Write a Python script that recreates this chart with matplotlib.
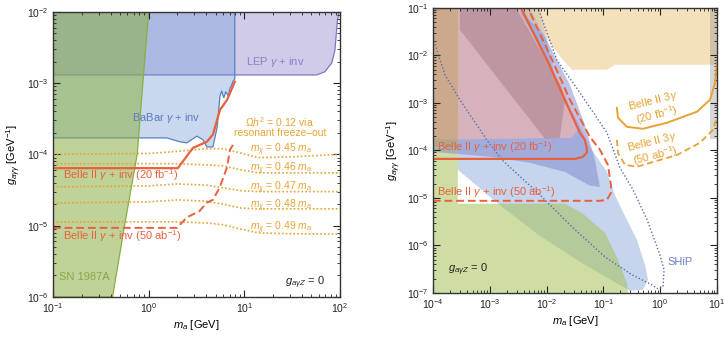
import numpy as np
import matplotlib
matplotlib.use("Agg")
import matplotlib.pyplot as plt
from matplotlib.ticker import LogLocator, NullFormatter

plt.rcParams["font.family"] = ["Liberation Sans", "DejaVu Sans"]
plt.rcParams["mathtext.fontset"] = "custom"
plt.rcParams["mathtext.rm"] = "Liberation Sans"
plt.rcParams["mathtext.it"] = "Liberation Sans:italic"
plt.rcParams["mathtext.bf"] = "Liberation Sans:bold"

# ==================================================
# left panel data (invisible ALP decays)
# ==================================================
lep_m = [0.1, 0.1, 57, 69.5, 82, 88.5, 94, 98]
lep_g = [1e-2, 1.3e-3, 1.3e-3, 1.44e-3, 1.92e-3, 2.9e-3, 7.7e-3, 1e-2]

babar_m = [0.1, 7.95, 7.95, 7.6, 7.4, 7.1, 6.8, 6.4, 6.1, 5.8, 5.56, 5.2, 4.7,
           4.06, 3.7, 3.2, 2.5, 2.12, 1.55, 0.1]
babar_g = [1e-2, 1e-2, 1.15e-3, 1.05e-3, 9.5e-4, 8.5e-4, 6.6e-4, 7.6e-4, 6.2e-4,
           7.8e-4, 6.5e-4, 2.4e-4, 1.27e-4, 1.27e-4, 1.6e-4, 1.8e-4, 1.45e-4,
           1.5e-4, 1.7e-4, 1.7e-4]

sn_m = [0.1, 0.42, 0.56, 0.76, 0.87, 1.0, 0.1]
sn_g = [1e-6, 1e-6, 1e-5, 1e-4, 1e-3, 1e-2, 1e-2]

belle20_m = [0.1, 2.02, 2.9, 4.06, 4.7, 5.56, 6.6, 7.95]
belle20_g = [6.4e-5, 6.4e-5, 1.23e-4, 1.5e-4, 1.9e-4, 4.2e-4, 5.8e-4, 1.04e-3]

belle50_m = [0.1, 1.98, 2.5, 3.4, 4.06, 4.7, 5.56, 6.6, 7.07, 7.95]
belle50_g = [9.3e-6, 9.3e-6, 1.3e-5, 1.6e-5, 2.1e-5, 2.3e-5, 3.5e-5, 6.6e-5, 1.15e-4, 1.5e-4]

# resonant freeze-out contours
res_m = [0.1, 1.0, 2.0, 4.0, 6.0, 9.0, 14.0, 30.0, 100.0]
res_045 = [1.0e-4, 1.03e-4, 1.1e-4, 1.2e-4, 1.2e-4, 1.05e-4, 9.0e-5, 9.2e-5, 1.0e-4]
res_046 = [7.4e-5, 7.4e-5, 7.4e-5, 7.1e-5, 6.9e-5, 6.1e-5, 5.5e-5, 5.5e-5, 5.5e-5]
res_047 = [3.5e-5, 3.6e-5, 3.85e-5, 3.7e-5, 3.4e-5, 3.1e-5, 3.0e-5, 3.0e-5, 3.0e-5]
res_048 = [2.08e-5, 2.15e-5, 2.3e-5, 2.2e-5, 2.0e-5, 1.77e-5, 1.72e-5, 1.72e-5, 1.72e-5]
res_049 = [1.13e-5, 1.13e-5, 1.13e-5, 1.09e-5, 1.03e-5, 9.0e-6, 7.9e-6, 7.7e-6, 7.6e-6]
res_labels = ["0.45", "0.46", "0.47", "0.48", "0.49"]

# ==================================================
# right panel data (visible ALP decays)
# ==================================================
blue_m = [2.75e-4, 7.65e-3, 0.0152, 0.0292, 0.058, 0.116, 0.16, 0.212, 0.39, 0.54,
          0.61, 0.50, 0.294, 0.0387, 7.65e-3, 1.64e-3, 2.75e-4]
blue_g = [0.1, 0.1, 2.17e-3, 6.2e-4, 1.19e-4, 3.5e-5, 1.16e-5, 5.6e-6, 1.3e-6, 3.9e-7,
          1.9e-7, 1.16e-7, 1.1e-7, 4.5e-7, 1.58e-6, 6.5e-6, 3.9e-5]

green_m = [1e-4, 1e-4, 2.75e-4, 2.75e-4, 0.021, 0.042, 0.107, 0.18, 0.26, 0.27]
green_g = [1e-7, 0.1, 0.1, 7.5e-6, 7.5e-6, 4.8e-6, 1.83e-6, 5e-7, 1.6e-7, 1e-7]

lav_m = [1e-4, 5.1e-3, 0.0258, 0.0474, 0.0711, 0.087, 0.058, 0.0211, 5.1e-3, 1.01e-3, 1e-4]
lav_g = [0.1, 0.1, 2.4e-3, 3.44e-4, 6.3e-5, 1.7e-5, 1.8e-5, 3.5e-5, 5.45e-5, 7.3e-5, 9.3e-5]

pink_m = [1e-4, 3.13e-3, 0.0194, 0.0316, 0.0357, 0.028, 1e-4]
pink_g = [0.1, 0.1, 2.07e-3, 4.8e-4, 2.7e-4, 1.83e-4, 1.66e-4]

rose_m = [2.99e-4, 2.89e-3, 0.0179, 0.0211, 0.0172, 9.4e-3, 2.99e-4]
rose_g = [0.1, 0.1, 2.28e-3, 1.16e-3, 1.83e-4, 1.75e-4, 0.0344]

tan_m = [3.0e-3, 10, 10, 0.16, 0.116, 0.028, 0.0194, 7.65e-3]
tan_g = [0.1, 0.1, 6.3e-3, 6.3e-3, 4.96e-3, 4.96e-3, 8.0e-3, 0.0344]

tanstrip_m = [1e-4, 2.75e-4, 2.75e-4, 1e-4]
tanstrip_g = [0.1, 0.1, 1.19e-4, 1.19e-4]

gray_m = [7.5, 10, 10, 7.5]
gray_g = [0.1, 0.1, 1.7e-4, 1.7e-4]

inv20_m = [1e-4, 0.0316, 0.0437, 0.0514, 0.0514, 0.0474, 0.0387, 0.0211, 0.0106, 0.0034]
inv20_g = [6.6e-5, 6.6e-5, 7.3e-5, 9e-5, 1.03e-4, 1.66e-4, 2.33e-4, 1.15e-3, 7.3e-3, 0.11]

inv50_m = [1e-4, 0.087, 0.1156, 0.136, 0.136, 0.12, 0.087, 0.058, 0.0258, 0.013, 0.0047]
inv50_g = [8.65e-6, 8.65e-6, 9.1e-6, 1.27e-5, 1.88e-5, 4.96e-5, 1.03e-4, 1.92e-4, 1.16e-3,
           7.3e-3, 0.1]

ship_m = [1.05e-4, 1.63e-4, 2.99e-4, 8.9e-4, 1.64e-3, 7.06e-3, 0.028, 0.107, 0.319, 0.661,
          0.914, 1.12, 1.17, 0.99, 0.586, 0.332, 0.196, 0.116, 0.0387, 0.0152, 7.06e-3]
ship_g = [2.0e-2, 3.9e-3, 1.16e-3, 1.66e-4, 6.3e-5, 1.27e-5, 2.45e-6, 5.7e-7, 2.4e-7,
          1.55e-7, 1.22e-7, 1.34e-7, 3.05e-7, 6.3e-7, 3.5e-6, 1.48e-5, 4.3e-5, 2.33e-4,
          1.63e-3, 8.0e-3, 0.1]

tri20_m = [0.173, 0.181, 0.26, 0.497, 1.32, 4.45, 7.53, 9.2, 10]
tri20_g = [7.85e-4, 4.83e-4, 3.12e-4, 2.84e-4, 3.8e-4, 6.5e-4, 1.16e-3, 2.6e-3, 6.95e-3]

tri50_m = [0.173, 0.181, 0.24, 0.39, 1.98, 5.0, 8.5, 10]
tri50_g = [1.66e-4, 8.85e-5, 4.95e-5, 4.5e-5, 8.0e-5, 1.44e-4, 2.7e-4, 5.1e-4]

RED = "#e9603c"
ORANGE = "#e8a233"


def setup_axes(ax):
    ax.set_xscale("log")
    ax.set_yscale("log")
    ax.tick_params(which="both", direction="in", top=True, right=True,
                   labelsize=7.5, colors="#222222", pad=3)
    ax.tick_params(which="major", length=5, width=0.8)
    ax.tick_params(which="minor", length=2.5, width=0.6)
    for a in (ax.xaxis, ax.yaxis):
        a.set_major_locator(LogLocator(base=10, numticks=20))
        a.set_minor_locator(LogLocator(base=10, subs=np.arange(2, 10), numticks=20))
        a.set_minor_formatter(NullFormatter())
    for sp in ax.spines.values():
        sp.set_linewidth(1.0)
        sp.set_color("#333333")
    ax.set_xlabel(r"$m_a$ [GeV]", fontsize=8, labelpad=2)
    ax.set_ylabel(r"$g_{a\gamma\gamma}$ [GeV$^{-1}$]", fontsize=8, labelpad=3)


fig = plt.figure(figsize=(7.25, 3.37), dpi=100)

# ==================================================
# left panel
# ==================================================
ax1 = fig.add_axes([0.073, 0.119, 0.396, 0.846])
setup_axes(ax1)
ax1.set_xlim(0.1, 100)
ax1.set_ylim(1e-6, 1e-2)

ax1.fill(lep_m, lep_g, facecolor=(0.59, 0.55, 0.80, 0.45), edgecolor="#7d76c0", lw=0.9)
ax1.fill(babar_m, babar_g, facecolor=(0.45, 0.60, 0.83, 0.38), edgecolor="#5580c2", lw=0.9)
ax1.fill(sn_m, sn_g, facecolor=(0.55, 0.69, 0.27, 0.55), edgecolor="#86b040", lw=0.9)

for vals in (res_045, res_046, res_047, res_048, res_049):
    ax1.plot(res_m, vals, color=ORANGE, lw=1.2, ls=(0, (1.0, 1.3)))

ax1.plot(belle20_m, belle20_g, color=RED, lw=1.6)
ax1.plot(belle50_m, belle50_g, color=RED, lw=1.4, ls=(0, (4, 2)))

ax1.text(21, 2.0e-3, r"LEP $\gamma$ + inv", color="#8a82c8", fontsize=8, ha="center", va="center")
ax1.text(1.52, 3.2e-4, r"BaBar $\gamma$ + inv", color="#5b7cc0", fontsize=8, ha="center", va="center")
ax1.text(23.5, 2.86e-4, r"$\Omega h^2$ = 0.12 via", color=ORANGE, fontsize=7.5, ha="center", va="center")
ax1.text(23.5, 2.0e-4, "resonant freeze\u2013out", color=ORANGE, fontsize=7.5, ha="center", va="center")
for lab, yy in zip(res_labels, [1.16e-4, 6.3e-5, 3.4e-5, 1.9e-5, 9.3e-6]):
    ax1.text(24, yy, r"$m_\chi$ = " + lab + r" $m_a$", color=ORANGE, fontsize=7.5,
             ha="center", va="center")
ax1.text(0.127, 5.1e-5, r"Belle II $\gamma$ + inv (20 fb$^{-1}$)", color=RED, fontsize=8,
         ha="left", va="center")
ax1.text(0.127, 7.2e-6, r"Belle II $\gamma$ + inv (50 ab$^{-1}$)", color=RED, fontsize=8,
         ha="left", va="center")
ax1.text(0.115, 1.9e-6, "SN 1987A", color="#86a848", fontsize=8, ha="left", va="center")
ax1.text(69, 1.6e-6, r"$g_{a\gamma Z}$ = 0", color="#222222", fontsize=8, ha="right", va="center")

# ==================================================
# right panel
# ==================================================
ax2 = fig.add_axes([0.597, 0.131, 0.392, 0.846])
setup_axes(ax2)
ax2.set_xlim(1e-4, 10)
ax2.set_ylim(1e-7, 1e-1)

ax2.fill(blue_m, blue_g, facecolor=(0.47, 0.60, 0.84, 0.42), lw=0)
ax2.fill(green_m, green_g, facecolor=(0.65, 0.76, 0.35, 0.55), lw=0)
ax2.fill(lav_m, lav_g, facecolor=(0.50, 0.52, 0.80, 0.5), lw=0)
ax2.fill(pink_m, pink_g, facecolor=(0.87, 0.70, 0.72, 0.88), lw=0)
ax2.fill(rose_m, rose_g, facecolor=(0.55, 0.36, 0.42, 0.32), lw=0)
ax2.fill(tan_m, tan_g, facecolor=(0.93, 0.80, 0.56, 0.6), lw=0)
ax2.fill(tanstrip_m, tanstrip_g, facecolor=(0.75, 0.62, 0.35, 0.45), lw=0)
ax2.fill(gray_m, gray_g, facecolor=(0.55, 0.55, 0.55, 0.35), lw=0)

ax2.plot(ship_m, ship_g, color="#5a6ea8", lw=1.0, ls=(0, (1, 1.5)))
ax2.plot(inv20_m, inv20_g, color=RED, lw=1.6)
ax2.plot(inv50_m, inv50_g, color=RED, lw=1.4, ls=(0, (4, 2)))
ax2.plot(tri20_m, tri20_g, color=ORANGE, lw=1.4)
ax2.plot(tri50_m, tri50_g, color=ORANGE, lw=1.3, ls=(0, (3.5, 2)))

ax2.text(1.18e-4, 1.19e-4, r"Belle II $\gamma$ + inv (20 fb$^{-1}$)", color=RED, fontsize=8,
         ha="left", va="center")
ax2.text(1.18e-4, 1.34e-5, r"Belle II $\gamma$ + inv (50 ab$^{-1}$)", color=RED, fontsize=8,
         ha="left", va="center")
ax2.text(0.8, 7.5e-4, "Belle II 3$\\gamma$\n(20 fb$^{-1}$)", color=ORANGE, fontsize=8,
         ha="center", va="center", rotation=14, linespacing=1.0)
ax2.text(0.78, 1.05e-4, "Belle II 3$\\gamma$\n(50 ab$^{-1}$)", color=ORANGE, fontsize=8,
         ha="center", va="center", rotation=14, linespacing=1.0)
ax2.text(1.37, 4.5e-7, "SHiP", color="#6a80c0", fontsize=8, ha="left", va="center")
ax2.text(1.84e-4, 3.0e-7, r"$g_{a\gamma Z}$ = 0", color="#222222", fontsize=8, ha="left", va="center")

fig.savefig("out.png", dpi=100)
